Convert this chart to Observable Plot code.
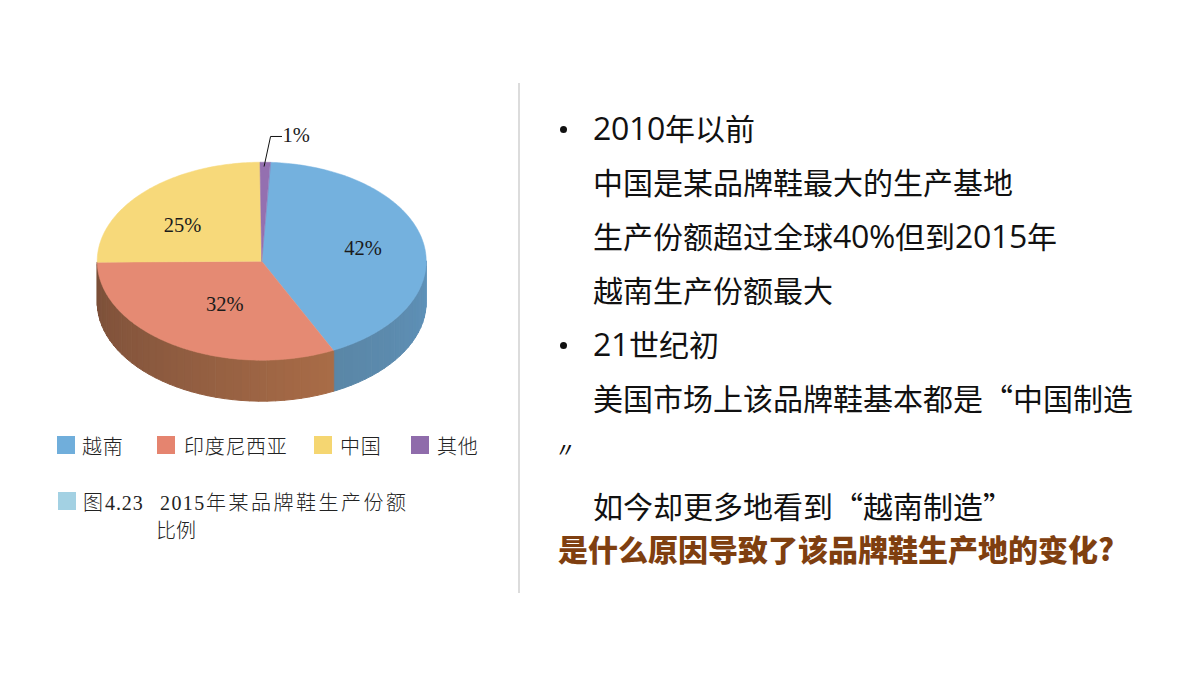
<!DOCTYPE html>
<html lang="zh-CN">
<head>
<meta charset="utf-8">
<script src="https://cdn.jsdelivr.net/npm/d3@7"></script>
<script src="https://cdn.jsdelivr.net/npm/@observablehq/plot@0.6"></script>
<style>
@font-face{font-family:"BodyDigits";src:local("Open Sans");unicode-range:U+30-39,U+25;size-adjust:106%;}
html,body{margin:0;padding:0;background:#fff;}
#page{position:relative;width:1200px;height:675px;overflow:hidden;}
#page svg{position:absolute;left:0;top:0;background:transparent;}
.serif{font-family:"Liberation Serif","Noto Sans CJK SC",serif;color:#222;font-size:20px;font-weight:300;line-height:24px;position:absolute;white-space:pre;}
.swatch{position:absolute;width:18px;height:18px;}
.line{position:absolute;left:593px;font:400 30px/40px "BodyDigits","Noto Sans CJK SC",sans-serif;color:#111;white-space:pre;}
.bullet{position:absolute;left:560px;width:7px;height:7px;border-radius:50%;background:#111;}
</style>
</head>
<body>
<div id="page"></div>
<script>
const categories = ["越南", "印度尼西亚", "中国", "其他"];
const shares = [42, 32, 25, 1];
const shareLabels = ["42%", "32%", "25%", "1%"];
const captionLines = ["图", "4.23", "2015", "年某品牌鞋生产份额", "比例"];
const bodyLines = [
  "2010年以前",
  "中国是某品牌鞋最大的生产基地",
  "生产份额超过全球40%但到2015年",
  "越南生产份额最大",
  "21世纪初",
  "美国市场上该品牌鞋基本都是“中国制造",
  "”",
  "如今却更多地看到“越南制造”"
];
const question = "是什么原因导致了该品牌鞋生产地的变化?";

// styles
const topColors = ["#74b1de", "#e58a73", "#f7d97a", "#9470b0"];
const legendColors = ["#70aedb", "#e5846f", "#f5d671", "#8f6cab"];
const sideStops = {0: ["#5f92ba", "#5a86a6"], 1: ["#a96c47", "#8f5c40", "#7a4e38"]};
const startAngle = 3.0, depth = 0.414;

const total = d3.sum(shares);
let acc = startAngle;
const slices = shares.map((v, i) => {
  const a0 = acc, a1 = acc + v / total * 360;
  acc = a1;
  return {i, a0, a1, mid: (a0 + a1) / 2, label: shareLabels[i]};
});
const px = a => Math.sin(a * Math.PI / 180);
const py = a => -Math.cos(a * Math.PI / 180);

// top face polygons
const topPts = slices.flatMap(s => {
  const n = Math.max(2, Math.ceil((s.a1 - s.a0)));
  const arc = d3.range(n + 1).map(k => s.a0 + (s.a1 - s.a0) * k / n);
  return [{x: 0, y: 0, i: s.i}, ...arc.map(a => ({x: px(a), y: py(a), i: s.i}))];
});

// side wall strips (front half of the drum)
const sidePts = [];
slices.forEach(s => {
  const lo = Math.max(s.a0, 90), hi = Math.min(s.a1, 270);
  if (lo >= hi || !sideStops[s.i]) return;
  const stops = sideStops[s.i];
  const ramp = d3.scaleLinear().domain(stops.map((_, k) => lo + (hi - lo) * k / (stops.length - 1))).range(stops);
  for (let a = lo; a < hi; a += 3) {
    const b = Math.min(a + 3, hi), id = s.i + "-" + a, c = ramp((a + b) / 2);
    for (const [ang, off] of [[a, 0], [b, 0], [b, depth], [a, depth]])
      sidePts.push({x: px(ang), y: py(ang) + off, id, c});
  }
});

// label placement: polar position inside the slice
const labelPolar = [{r: .63, da: -1}, {r: .49, da: -4.5}, {r: .605, da: -7}];
const labelPts = labelPolar.map((p, i) => ({
  x: p.r * px(slices[i].mid + p.da), y: p.r * py(slices[i].mid + p.da), label: slices[i].label
}));
const tip = slices[3];
const leader = [
  {x: px(tip.mid) - .006, y: py(tip.mid) + .04},
  {x: px(tip.mid) + .033, y: py(tip.mid) - .26},
  {x: px(tip.mid) + .1, y: py(tip.mid) - .26}
];

const chart = Plot.plot({
  width: 1200, height: 675,
  marginTop: 0, marginRight: 0, marginBottom: 0, marginLeft: 0,
  x: {domain: [-1, 1], range: [96.7, 425.7], axis: null},
  y: {domain: [-1, 1], range: [161.7, 359.7], axis: null},
  color: {type: "identity"},
  style: {background: "transparent"},
  marks: [
    Plot.line(sidePts, {x: "x", y: "y", z: "id", fill: "c", stroke: "c", strokeWidth: 1, curve: "linear-closed"}),
    Plot.line(topPts, {x: "x", y: "y", z: "i", fill: d => topColors[d.i], stroke: d => topColors[d.i], strokeWidth: 0.5, curve: "linear-closed"}),
    Plot.text(labelPts, {x: "x", y: "y", text: "label", dy: 0.5, fontFamily: "Liberation Serif", fontSize: 20.5, fill: "#1a1a1a"}),
    Plot.line(leader, {x: "x", y: "y", stroke: "#111", strokeWidth: 1}),
    Plot.text([leader[2]], {x: "x", y: "y", text: () => tip.label, textAnchor: "start", dx: 1, dy: -1, fontFamily: "Liberation Serif", fontSize: 20.5, fill: "#1a1a1a"})
  ]
});

const page = document.getElementById("page");
page.appendChild(chart);

function add(cls, css, text) {
  const el = document.createElement("div");
  el.className = cls;
  el.style.cssText = css;
  if (text !== undefined) el.textContent = text;
  page.appendChild(el);
  return el;
}
add("", "position:absolute;left:518px;top:83px;width:2px;height:510px;background:#dcdcdc");

// legend
const swatchX = [57, 157, 314, 411], legendTextX = [82, 184, 340, 437];
categories.forEach((c, i) => {
  add("swatch", `left:${swatchX[i]}px;top:436px;background:${legendColors[i]}`);
  add("serif", `left:${legendTextX[i]}px;top:435px;letter-spacing:.7px`, c);
});

// caption
add("swatch", "left:58px;top:492px;background:#a3d1e3");
add("serif", "left:83px;top:491px", captionLines[0]);
add("serif", "left:105px;top:491px;letter-spacing:.9px", captionLines[1]);
add("serif", "left:160px;top:491px;letter-spacing:1.4px", captionLines[2]);
add("serif", "left:206px;top:491px;letter-spacing:2.5px", captionLines[3]);
add("serif", "left:156px;top:519px", captionLines[4]);

// body text
const bodyTop = [107, 161, 215, 269, 323, 377, 431, 485];
bodyLines.forEach((t, i) => {
  const extra = i === 6 ? "left:557px;top:438px;font-family:'Open Sans';font-size:38px;font-style:italic;font-weight:300;" : `top:${bodyTop[i]}px;`;
  add("line", extra, t);
});
add("bullet", "top:126px");
add("bullet", "top:342px");
add("line", "left:558px;top:528px;font-weight:900;color:#7f3f10", question);
</script>
</body>
</html>
